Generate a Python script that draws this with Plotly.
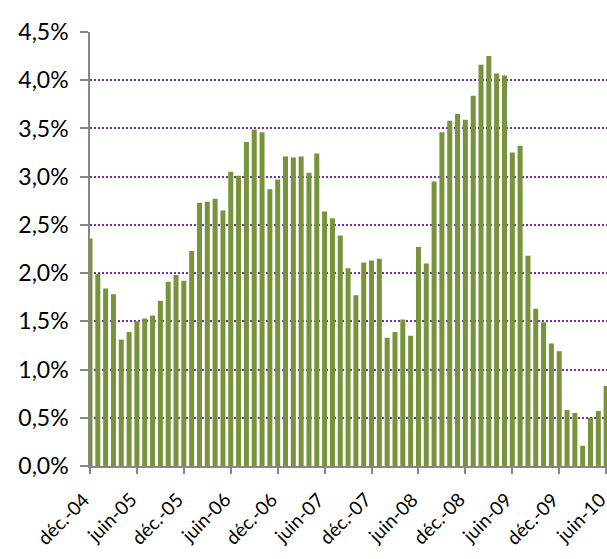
import plotly.graph_objects as go

month_names = ["janv.", "févr.", "mars", "avr.", "mai", "juin",
               "juil.", "août", "sept.", "oct.", "nov.", "déc."]

# Months from déc.-04 to juin-10
months = ["déc.-04"]
for yr in range(5, 11):
    for m in range(12):
        if yr == 10 and m > 5:
            break
        months.append(f"{month_names[m]}-{yr:02d}")

values = [
    2.36, 1.99, 1.84, 1.78, 1.31, 1.39, 1.50, 1.53, 1.56, 1.71, 1.91, 1.98,
    1.92, 2.23, 2.73, 2.74, 2.77, 2.65, 3.05, 3.01, 3.36, 3.49, 3.46, 2.87,
    2.97, 3.21, 3.20, 3.21, 3.04, 3.24, 2.64, 2.57, 2.39, 2.05, 1.77, 2.11,
    2.13, 2.15, 1.33, 1.39, 1.52, 1.35, 2.27, 2.10, 2.95, 3.46, 3.58, 3.65,
    3.59, 3.84, 4.16, 4.25, 4.07, 4.05, 3.25, 3.32, 2.18, 1.63, 1.49, 1.27,
    1.19, 0.58, 0.55, 0.21, 0.50, 0.57, 0.83,
]

tick_labels = months[::6]
y_ticks = [0, 0.5, 1.0, 1.5, 2.0, 2.5, 3.0, 3.5, 4.0, 4.5]
y_tick_text = [f"{v:.1f}%".replace(".", ",") for v in y_ticks]

fig = go.Figure(go.Bar(
    x=months, y=values,
    marker=dict(color="#77933C", line=dict(width=0)),
))

# x tick labels drawn as rotated annotations anchored at the ticks
for lab in tick_labels:
    fig.add_annotation(
        x=lab, xref="x", y=0, yref="paper",
        text=lab, showarrow=False, textangle=-45,
        xanchor="right", yanchor="top", yshift=-19, xshift=6,
        font=dict(size=19, color="black", family="Lato, Open Sans, sans-serif"),
    )

fig.update_layout(
    width=607, height=559,
    margin=dict(l=90, r=0, t=32, b=93),
    plot_bgcolor="white", paper_bgcolor="white",
    bargap=0.36,
    showlegend=False,
    font=dict(family="Lato, Open Sans, sans-serif", color="black"),
)

fig.update_xaxes(
    type="category",
    range=[0, 66.11],
    tickmode="array", tickvals=tick_labels, ticktext=tick_labels,
    showticklabels=False,
    ticks="outside", ticklen=6, tickcolor="#868686", tickwidth=1.5,
    showline=True, linecolor="#868686", linewidth=1.5,
    showgrid=False,
    automargin=False,
)

fig.update_yaxes(
    range=[0, 4.5],
    tickmode="array", tickvals=y_ticks, ticktext=y_tick_text,
    tickfont=dict(size=23, color="black"),
    ticks="outside", ticklen=8, tickcolor="#868686", tickwidth=1.5,
    showline=True, linecolor="#868686", linewidth=1.5,
    showgrid=True, gridcolor="#7030A0", gridwidth=1.8, griddash="2px,2px",
    zeroline=False,
    ticklabelstandoff=7,
    automargin=False,
)

fig.write_html(
    "out.html",
    config={"displayModeBar": False},
    post_script="document.body.style.margin='0';document.body.style.overflow='hidden';",
)
